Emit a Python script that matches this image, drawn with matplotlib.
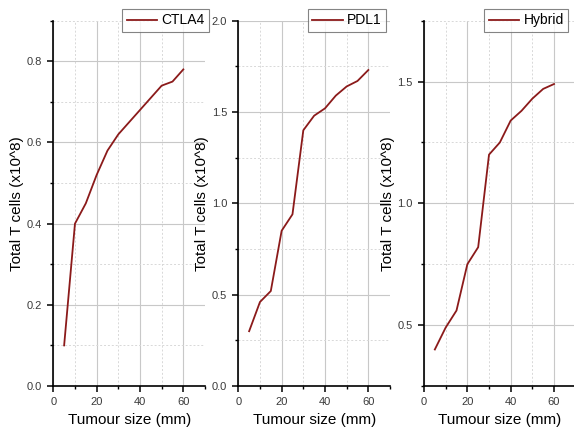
import matplotlib
matplotlib.use("Agg")
import matplotlib.pyplot as plt
from matplotlib.ticker import MultipleLocator, FormatStrFormatter

plt.rcParams['font.family'] = ['Liberation Sans', 'DejaVu Sans']

tumour_size = [5, 10, 15, 20, 25, 30, 35, 40, 45, 50, 55, 60]
ctla4 = [0.10, 0.40, 0.45, 0.52, 0.58, 0.62, 0.65, 0.68, 0.71, 0.74, 0.75, 0.78]
pdl1 = [0.30, 0.46, 0.52, 0.85, 0.94, 1.40, 1.48, 1.52, 1.59, 1.64, 1.67, 1.73]
hybrid = [0.40, 0.49, 0.56, 0.75, 0.82, 1.20, 1.25, 1.34, 1.38, 1.43, 1.47, 1.49]
series_names = ["CTLA4", "PDL1", "Hybrid"]

x_label = "Tumour size (mm)"
y_label = "Total T cells (x10^8)"

line_color = "#8B1A1A"

fig = plt.figure(figsize=(5.74, 4.32), dpi=100)

W, H = 574.0, 432.0
panels = [
    dict(left=53.3, data=ctla4, ylim=(0, 0.9), major=0.2, minor=0.1, fmt="%.1f", leg=(1.026, 1.032)),
    dict(left=238.3, data=pdl1, ylim=(0, 2.0), major=0.5, minor=0.25, fmt="%.1f", leg=(0.974, 1.032)),
    dict(left=424.0, data=hybrid, ylim=(0.25, 1.75), major=0.5, minor=0.25, fmt="%.1f", leg=(0.951, 1.032)),
]
ax_w = 151.7
ax_bottom = 386.0
ax_top = 20.7

for p, name in zip(panels, series_names):
    ax = fig.add_axes([p['left'] / W, 1 - ax_bottom / H, ax_w / W, (ax_bottom - ax_top) / H])
    ax.plot(tumour_size, p['data'], color=line_color, lw=1.3, label=name, zorder=3)
    ax.set_xlim(0, 70)
    ax.set_ylim(*p['ylim'])
    ax.xaxis.set_major_locator(MultipleLocator(20))
    ax.xaxis.set_minor_locator(MultipleLocator(10))
    ax.yaxis.set_major_locator(MultipleLocator(p['major']))
    ax.yaxis.set_minor_locator(MultipleLocator(p['minor']))
    ax.yaxis.set_major_formatter(FormatStrFormatter(p['fmt']))
    ax.grid(True, which='major', color='#c8c8c8', lw=0.8, ls='-', zorder=0)
    ax.grid(True, which='minor', color='#d8d8d8', lw=0.7, ls=(0, (2, 2)), zorder=0)
    ax.set_axisbelow(True)
    for s in ['top', 'right']:
        ax.spines[s].set_visible(False)
    for s in ['left', 'bottom']:
        ax.spines[s].set_linewidth(1.2)
        ax.spines[s].set_color('black')
    ax.tick_params(which='major', direction='out', length=4, width=1.1, labelsize=8,
                   labelcolor='#3a3a3a', pad=4)
    ax.tick_params(which='minor', direction='out', length=2.5, width=1.0)
    ax.set_xlabel(x_label, fontsize=11)
    ax.set_ylabel(y_label, fontsize=11)
    ax.yaxis.set_label_coords(-0.19, 0.5)
    ax.xaxis.set_label_coords(0.5, -0.075)
    leg = ax.legend(loc='upper right', bbox_to_anchor=p['leg'], fontsize=10, frameon=True,
                    fancybox=False, edgecolor='#666666', handlelength=2.2, handletextpad=0.3,
                    borderpad=0.32, borderaxespad=0.0)
    leg.get_frame().set_linewidth(0.8)
    leg.set_zorder(5)

fig.savefig("out.png", dpi=100)
